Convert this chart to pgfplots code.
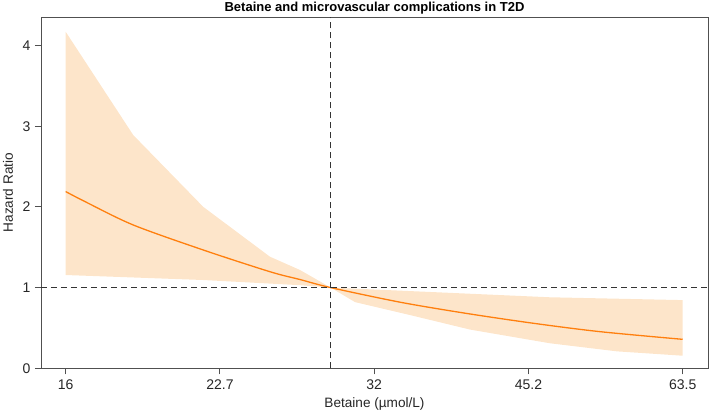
\documentclass[border=0pt]{standalone}
\usepackage{fontspec}
\setmainfont{Liberation Sans}
\usepackage{pgfplots}
\pgfplotsset{compat=1.18}
\definecolor{bandc}{RGB}{253,229,202}
\definecolor{linec}{RGB}{255,127,14}
\definecolor{axc}{RGB}{80,80,80}
\begin{document}
\begin{tikzpicture}
\useasboundingbox (-41pt,-44.7pt) rectangle (668pt,368.3pt);
\begin{axis}[
  scale only axis,
  width=667pt, height=351.3pt,
  xmin=-0.16, xmax=4.164,
  ymin=0, ymax=4.353,
  axis line style={axc, line width=0.9pt},
  xtick={0,1,2,3,4},
  xticklabels={16,22.7,32,45.2,63.5},
  ytick={0,1,2,3,4},
  yticklabels={0,1,2,3,4},
  tick align=outside,
  xtick pos=bottom, ytick pos=left,
  major tick length=6pt,
  tick style={axc, line width=0.9pt},
  tick label style={font=\fontsize{14}{16}\selectfont, text=black!85},
  xticklabel style={yshift=-2pt},
  yticklabel style={xshift=-1pt},
  xlabel={Betaine (µmol/L)},
  ylabel={Hazard Ratio},
  label style={font=\fontsize{13.6}{16}\selectfont, text=black!85},
  xlabel style={at={(axis description cs:0.5,-0.1016)}, anchor=center},
  ylabel style={at={(axis description cs:-0.0495,0.5)}, anchor=center},
  title={Betaine and microvascular complications in T2D},
  every axis title/.style={font=\bfseries\fontsize{13}{15}\selectfont, at={(axis description cs:0.5,1)}, anchor=center, yshift=8.8pt},
]
\addplot[fill=bandc, draw=none] coordinates {
  (0,4.17) (0.438,2.89) (0.892,2.0) (1.324,1.383) (1.519,1.218) (1.718,1.0)
  (2.171,0.962) (3.14,0.88) (4.0,0.845)
  (4.0,0.156) (3.574,0.21) (3.14,0.31) (2.621,0.48) (2.232,0.66) (1.876,0.82)
  (1.718,1.0) (1.519,1.03) (0.892,1.094) (0,1.156)
} -- cycle;
\addplot[linec, line width=1.3pt, smooth] coordinates {
  (0,2.19) (0.126,2.065) (0.438,1.776) (0.892,1.466) (1.324,1.197) (1.519,1.10)
  (1.718,1.0) (2.171,0.818) (2.599,0.68) (3.032,0.558) (3.464,0.454) (4.0,0.359)
};
\addplot[black!80, line width=1.3pt, dash pattern=on 6pt off 4pt] coordinates {(-0.16,1) (4.164,1)};
\addplot[black!80, line width=1.3pt, dash pattern=on 6pt off 4pt] coordinates {(1.718,0) (1.718,4.353)};
\end{axis}
\end{tikzpicture}
\end{document}
